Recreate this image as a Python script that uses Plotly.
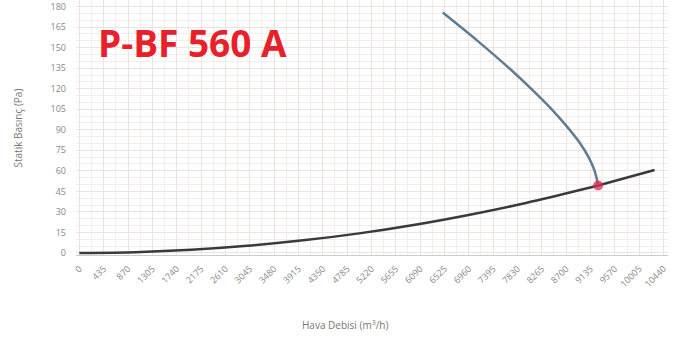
import plotly.graph_objects as go

# Data
system_flow = [0, 1000, 2000, 3000, 4000, 5000, 6000, 7000, 8000, 9000, 9270, 10280]
system_pressure = [0, 0.6, 2.3, 5.2, 9.2, 14.3, 20.6, 28.1, 36.7, 46.5, 49.3, 60.6]

fan_flow = [6495, 7100, 7708, 8100, 8418, 8700, 8951, 9100, 9200, 9248, 9271]
fan_pressure = [175.6, 155.5, 134.0, 119.0, 106.0, 93.0, 80.0, 70.0, 61.0, 54.0, 49.3]

op_flow = [9271]
op_pressure = [49.3]

x_ticks = [0, 435, 870, 1305, 1740, 2175, 2610, 3045, 3480, 3915, 4350, 4785, 5220,
           5655, 6090, 6525, 6960, 7395, 7830, 8265, 8700, 9135, 9570, 10005, 10440]
y_ticks = [0, 15, 30, 45, 60, 75, 90, 105, 120, 135, 150, 165, 180]

fig = go.Figure()
fig.add_trace(go.Scatter(x=system_flow, y=system_pressure, mode="lines",
                         line=dict(color="#3a3a3a", width=2.5, shape="spline", smoothing=0.8),
                         showlegend=False, hoverinfo="skip"))
fig.add_trace(go.Scatter(x=fan_flow, y=fan_pressure, mode="lines",
                         line=dict(color="#5f7d92", width=2.5, shape="spline", smoothing=0.6),
                         showlegend=False, hoverinfo="skip"))
fig.add_trace(go.Scatter(x=op_flow, y=op_pressure, mode="markers",
                         marker=dict(color="rgba(220,40,80,0.75)", size=10),
                         showlegend=False, hoverinfo="skip"))

fig.update_layout(
    width=680, height=340,
    margin=dict(l=76, r=12, t=0, b=85, autoexpand=False),
    paper_bgcolor="white", plot_bgcolor="white",
    font=dict(family="Open Sans, sans-serif", color="#777"),
)
fig.add_annotation(text="<b>P-BF 560 A</b>", xref="paper", yref="paper",
                   x=0.033, y=0.835, xanchor="left", yanchor="middle", showarrow=False,
                   font=dict(family="Open Sans, sans-serif", size=37, color="#e8202a"))
fig.add_annotation(text="Hava Debisi (m<sup>3</sup>/h)", xref="paper", yref="paper",
                   x=0.455, y=-0.275, xanchor="center", yanchor="middle", showarrow=False,
                   font=dict(size=10, color="#777"))
fig.add_annotation(text="Statik Basınç (Pa)", xref="paper", yref="paper",
                   x=-0.098, y=0.5, xanchor="center", yanchor="middle", showarrow=False,
                   textangle=-90, font=dict(size=10, color="#777"))

fig.update_xaxes(range=[-60, 10520], tickmode="array", tickvals=x_ticks,
                 ticktext=[str(v) for v in x_ticks], tickangle=-45,
                 tickfont=dict(size=9, color="#888"), ticklabeloverflow="allow",
                 ticklabelstandoff=4, automargin=False,
                 showgrid=True, gridcolor="#ebe2e2", gridwidth=1,
                 minor=dict(dtick=217.5, tick0=0, showgrid=True, gridcolor="#f4eded"),
                 zeroline=False, showline=True, linecolor="#cccccc", linewidth=1)
fig.update_yaxes(range=[-1.5, 184.8], tickmode="array", tickvals=y_ticks,
                 tickfont=dict(size=9, color="#888"), ticklabeloverflow="allow",
                 ticklabelstandoff=9, automargin=False,
                 showgrid=True, gridcolor="#ebe2e2", gridwidth=1,
                 minor=dict(dtick=5, showgrid=True, gridcolor="#f4eded"),
                 zeroline=False, showline=False)

fig.write_html("out.html", config={"displayModeBar": False},
               post_script="document.body.style.margin='0';")
